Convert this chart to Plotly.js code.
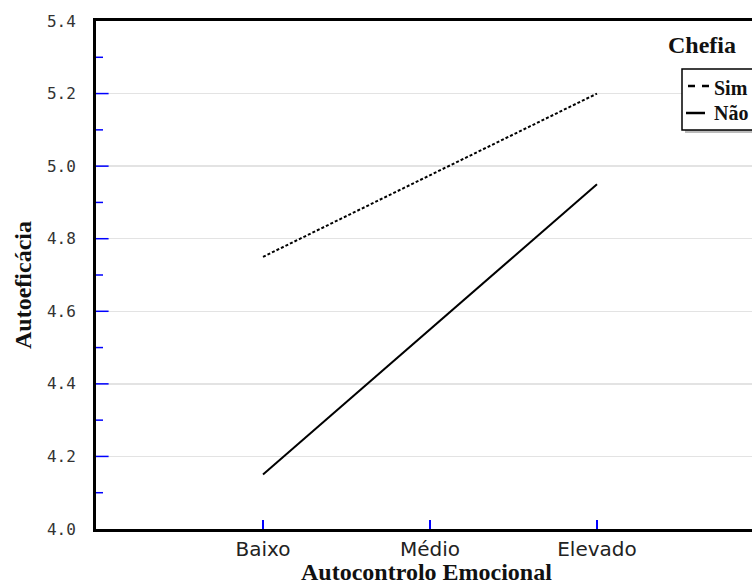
<!DOCTYPE html>
<html>
<head>
<meta charset="utf-8">
<script src="https://cdn.plot.ly/plotly-3.0.1.min.js"></script>
<style>
html, body { margin:0; padding:0; overflow:hidden; background:#fff; }
#chart { width:808px; height:584px; }
</style>
</head>
<body>
<div id="chart"></div>
<script>
const categories = ['Baixo', 'Médio', 'Elevado'];
const seriesNames = ['Sim', 'Não'];
const simValues = [4.75, 4.975, 5.2];
const naoValues = [4.15, 4.55, 4.95];
const yRange = [4.0, 5.4];
const yMajorStep = 0.2;
const yMajorTicks = [4.2, 4.4, 4.6, 4.8, 5.0, 5.2];
const yMinorTicks = [4.1, 4.3, 4.5, 4.7, 4.9, 5.1, 5.3];
const legendTitle = 'Chefia';
const xTitle = 'Autocontrolo Emocional';
const yTitle = 'Autoeficácia';

// plot-area geometry helpers (pixels -> paper)
const L = 96, T = 21, W = 668, H = 508;
const px = x => (x - L) / W;
const py = y => (T + H - y) / H;

const tickMarks = (vals, size) => ({
  x: vals.map(() => 0), y: vals, xaxis: 'x2', yaxis: 'y', type: 'scatter', mode: 'markers',
  cliponaxis: true, showlegend: false, hoverinfo: 'skip',
  marker: { symbol: 'line-ew', size: size, color: '#0000ff', line: { color: '#0000ff', width: 1.5 } }
});

const traces = [
  { x: categories, y: simValues, name: seriesNames[0], type: 'scatter', mode: 'lines',
    line: { color: '#000', width: 2, dash: '3px,2px' }, showlegend: false, hoverinfo: 'skip' },
  { x: categories, y: naoValues, name: seriesNames[1], type: 'scatter', mode: 'lines',
    line: { color: '#000', width: 2 }, showlegend: false, hoverinfo: 'skip' },
  tickMarks(yMajorTicks, 18),
  tickMarks(yMinorTicks, 10)
];

const serif = 'Liberation Serif, Times New Roman, serif';

const layout = {
  width: 808, height: 584,
  margin: { l: L, r: 808 - L - W, t: T, b: 584 - T - H },
  paper_bgcolor: '#fff', plot_bgcolor: '#fff',
  showlegend: false,
  xaxis: {
    type: 'category', range: [-1, 3],
    showline: true, linecolor: '#000', linewidth: 3, mirror: true,
    showgrid: false, zeroline: false,
    ticks: 'inside', ticklen: 9, tickwidth: 1.5, tickcolor: '#0000ff',
    tickfont: { family: 'DejaVu Sans, Verdana, sans-serif', size: 20, color: '#222' },
    title: { text: '' }
  },
  xaxis2: {
    overlaying: 'x', range: [0, 1], visible: false, showgrid: false, zeroline: false
  },
  yaxis: {
    range: yRange, tickmode: 'linear', tick0: yRange[0], dtick: yMajorStep, tickformat: '.1f',
    showline: true, linecolor: '#000', linewidth: 3, mirror: true,
    showgrid: true, gridcolor: '#e3e3e3', gridwidth: 1.5, zeroline: false,
    ticks: '', ticklabelstandoff: 14,
    tickfont: { family: 'DejaVu Sans Mono, monospace', size: 16, color: '#333' },
    title: { text: '' }
  },
  shapes: [
    // legend shadow
    { type: 'rect', xref: 'paper', yref: 'paper', x0: px(685), x1: px(800), y0: py(72), y1: py(133),
      fillcolor: '#bbb', line: { width: 0 }, layer: 'above' },
    // legend box
    { type: 'rect', xref: 'paper', yref: 'paper', x0: px(682), x1: px(790), y0: py(69), y1: py(130),
      fillcolor: '#fff', line: { color: '#000', width: 1.5 }, layer: 'above' },
    // legend symbols
    { type: 'line', xref: 'paper', yref: 'paper', x0: px(688), x1: px(710), y0: py(86), y1: py(86),
      line: { color: '#000', width: 2.5, dash: '7px,7px' }, layer: 'above' },
    { type: 'line', xref: 'paper', yref: 'paper', x0: px(686), x1: px(705), y0: py(113), y1: py(113),
      line: { color: '#000', width: 2.5 }, layer: 'above' }
  ],
  annotations: [
    { xref: 'paper', yref: 'paper', x: px(702), y: py(45), text: '<b>' + legendTitle + '</b>',
      showarrow: false, xanchor: 'center', yanchor: 'middle',
      font: { family: serif, size: 24, color: '#111' } },
    { xref: 'paper', yref: 'paper', x: px(712), y: py(88), text: '<b>' + seriesNames[0] + '</b>',
      showarrow: false, xanchor: 'left', yanchor: 'middle',
      font: { family: serif, size: 20, color: '#111' } },
    { xref: 'paper', yref: 'paper', x: px(712), y: py(113), text: '<b>' + seriesNames[1] + '</b>',
      showarrow: false, xanchor: 'left', yanchor: 'middle',
      font: { family: serif, size: 20, color: '#111' } },
    { xref: 'paper', yref: 'paper', x: px(426), y: py(572), text: '<b>' + xTitle + '</b>',
      showarrow: false, xanchor: 'center', yanchor: 'middle',
      font: { family: serif, size: 24, color: '#111' } },
    { xref: 'paper', yref: 'paper', x: px(23), y: py(285), text: '<b>' + yTitle + '</b>',
      showarrow: false, xanchor: 'center', yanchor: 'middle', textangle: -90,
      font: { family: serif, size: 24, color: '#111' } }
  ]
};

Plotly.newPlot('chart', traces, layout, { staticPlot: true, displayModeBar: false });
</script>
</body>
</html>
